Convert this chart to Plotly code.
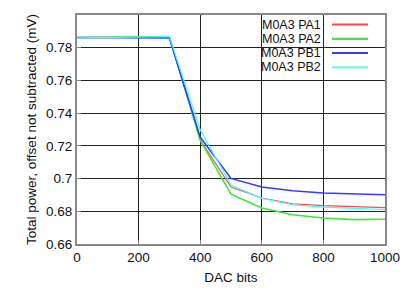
import plotly.graph_objects as go

dac_bits = [0, 100, 200, 300, 400, 500, 600, 700, 800, 900, 1000]
series_names = ["M0A3 PA1", "M0A3 PA2", "M0A3 PB1", "M0A3 PB2"]
pa1 = [0.7862, 0.7862, 0.7862, 0.7864, 0.7237, 0.6948, 0.6881, 0.6846, 0.6834, 0.6828, 0.6822]
pa2 = [0.7862, 0.7864, 0.7866, 0.7868, 0.7233, 0.6905, 0.6820, 0.6779, 0.6759, 0.6749, 0.6751]
pb1 = [0.7862, 0.7862, 0.7862, 0.7860, 0.7253, 0.7001, 0.6948, 0.6926, 0.6912, 0.6905, 0.6901]
pb2 = [0.7860, 0.7862, 0.7865, 0.7868, 0.7298, 0.6960, 0.6879, 0.6840, 0.6826, 0.6816, 0.6810]
series_values = [pa1, pa2, pb1, pb2]
colors = ["#ff4a4a", "#3ee63e", "#3a3aff", "#3cffff"]
widths = [1.2, 1.6, 1.6, 1.2]
x_ticks = [0, 200, 400, 600, 800, 1000]
y_ticks = [0.66, 0.68, 0.70, 0.72, 0.74, 0.76, 0.78, 0.80]
y_tick_labels = ["0.66", "0.68", "0.7", "0.72", "0.74", "0.76", "0.78", "0.8"]

fig = go.Figure()
for name, vals, c, w in zip(series_names, series_values, colors, widths):
    fig.add_trace(go.Scatter(x=dac_bits, y=vals, mode="lines", name=name,
                             line=dict(color=c, width=w), showlegend=False))

font = dict(family="Liberation Sans, Arial, sans-serif", size=13.5, color="#111")
legend_font = dict(family="Liberation Sans, Arial, sans-serif", size=12.5, color="#111")

# page has an 8px body margin; plot area in window coords: x 77..385, y 15..244
OFF = 8
PX0, PX1, PY0, PY1 = 77, 385, 15, 244
W, H = 415 - 2 * OFF, 293 - 2 * OFF

def px(x):
    return (x - PX0) / (PX1 - PX0)

def py(y):
    return (PY1 - y) / (PY1 - PY0)

# custom gnuplot-style legend: text right aligned, sample line to the right
row_y = [24.5, 38.8, 53, 67.3]
for name, c, w, ry in zip(series_names, colors, widths, row_y):
    fig.add_annotation(xref="paper", yref="paper", x=px(323), y=py(ry),
                       text=name, showarrow=False, xanchor="right",
                       yanchor="middle", font=legend_font)
    fig.add_shape(type="line", xref="paper", yref="paper",
                  x0=px(332), x1=px(368), y0=py(ry), y1=py(ry),
                  line=dict(color=c, width=w + 0.6))

fig.update_layout(
    width=W, height=H,
    margin=dict(l=PX0 - OFF, r=W - (PX1 - OFF), t=PY0 - OFF, b=H - (PY1 - OFF),
                autoexpand=False),
    paper_bgcolor="white", plot_bgcolor="white",
    font=font,
    xaxis=dict(range=[0, 1000], tickvals=x_ticks, showgrid=True, automargin=False,
               gridcolor="#222", gridwidth=1, zeroline=False,
               showline=True, mirror=True, linecolor="#888", linewidth=2,
               ticks="inside", ticklen=4, tickcolor="#888",
               title=dict(text="DAC bits", font=font, standoff=13),
               tickfont=font),
    yaxis=dict(range=[0.66, 0.80], tickvals=y_ticks, ticktext=y_tick_labels,
               showgrid=True, gridcolor="#222", gridwidth=1, zeroline=False,
               automargin=False,
               showline=True, mirror=True, linecolor="#888", linewidth=2,
               ticks="inside", ticklen=4, tickcolor="#888",
               title=dict(text="Total power, offset not subtracted (mV)",
                          font=font, standoff=6),
               tickfont=font),
)

fig.write_html("out.html")
